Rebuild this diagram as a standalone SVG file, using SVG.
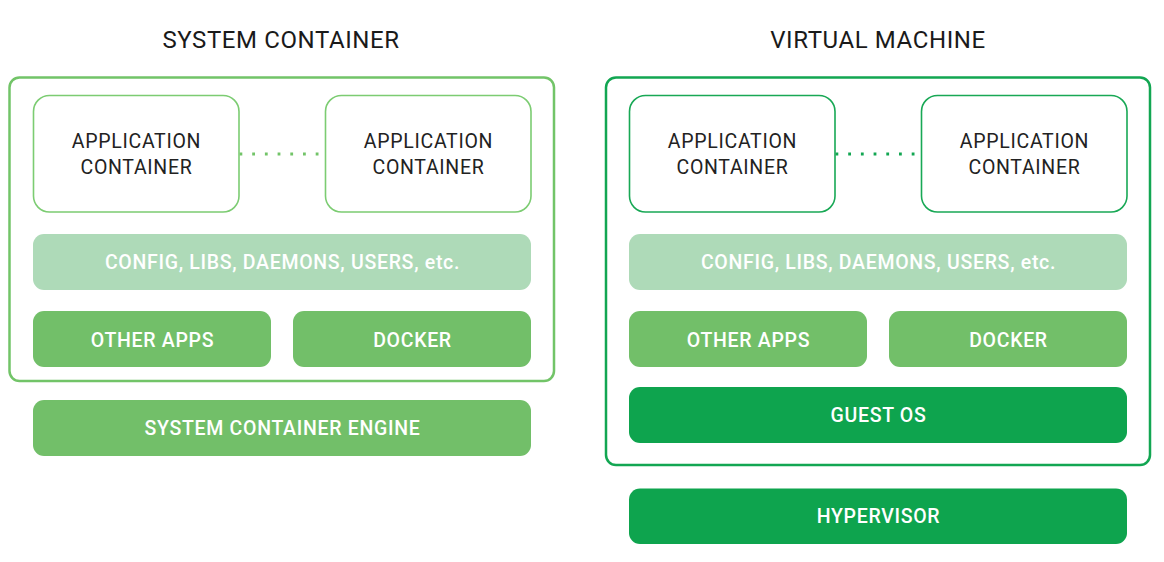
<svg xmlns="http://www.w3.org/2000/svg" width="1164" height="562" viewBox="0 0 1164 562">
<style>
.title{font-family:Roboto,"Liberation Sans",sans-serif;font-size:24px;letter-spacing:0.6px;fill:#1a1a1a;text-anchor:middle}
.app{font-family:Roboto,"Liberation Sans",sans-serif;font-size:19.5px;letter-spacing:0.7px;fill:#222;text-anchor:middle}
.lbl{font-family:Roboto,"Liberation Sans",sans-serif;font-size:19.5px;letter-spacing:0.7px;fill:#fff;text-anchor:middle;font-weight:500}
.outerL{fill:#fff;stroke:#72c468;stroke-width:2.5}
.outerR{fill:#fff;stroke:#12a652;stroke-width:2.5}
.appL{fill:#fff;stroke:#7ccc72;stroke-width:1.6}
.appR{fill:#fff;stroke:#18a855;stroke-width:1.6}
.light{fill:#aedab8}
.mid{fill:#72bf69}
.dark{fill:#0ea44e}
.dotL{stroke:#72c468;stroke-width:2.8;stroke-dasharray:2.8 9.9;fill:none}
.dotR{stroke:#12a652;stroke-width:2.8;stroke-dasharray:2.8 9.9;fill:none}
</style>
<rect width="1164" height="562" fill="#fff"/>
<text class="title" x="281" y="48">SYSTEM CONTAINER</text>
<text class="title" x="878" y="48">VIRTUAL MACHINE</text>

<g id="system-container">
<rect class="outerL" x="9.5" y="77.5" width="544.5" height="303.5" rx="10"/>
</g>
<g id="virtual-machine">
<rect class="outerR" x="606" y="77.5" width="544" height="387.5" rx="10"/>
</g>

<g id="connectors">
<line class="dotL" x1="239.5" y1="154" x2="320" y2="154"/>
<line class="dotR" x1="835.5" y1="154" x2="916" y2="154"/>
</g>

<g id="sc-app1"><rect class="appL" x="33.5" y="95.5" width="205.5" height="116.5" rx="16"/>
<text class="app" x="136.5" y="148">APPLICATION</text><text class="app" x="136.5" y="174">CONTAINER</text></g>
<g id="sc-app2"><rect class="appL" x="325.5" y="95.5" width="205.5" height="116.5" rx="16"/>
<text class="app" x="428.5" y="148">APPLICATION</text><text class="app" x="428.5" y="174">CONTAINER</text></g>
<g id="sc-config"><rect class="light" x="33" y="234" width="498" height="56" rx="11"/>
<text class="lbl" x="282.5" y="269">CONFIG, LIBS, DAEMONS, USERS, etc.</text></g>
<g id="sc-other"><rect class="mid" x="33" y="311" width="238" height="56" rx="11"/>
<text class="lbl" x="152.5" y="346.5">OTHER APPS</text></g>
<g id="sc-docker"><rect class="mid" x="293" y="311" width="238" height="56" rx="11"/>
<text class="lbl" x="412.5" y="346.5">DOCKER</text></g>
<g id="sc-engine"><rect class="mid" x="33" y="400" width="498" height="56" rx="11"/>
<text class="lbl" x="282.5" y="435">SYSTEM CONTAINER ENGINE</text></g>

<g id="vm-app1"><rect class="appR" x="629.5" y="95.5" width="205.5" height="116.5" rx="16"/>
<text class="app" x="732.5" y="148">APPLICATION</text><text class="app" x="732.5" y="174">CONTAINER</text></g>
<g id="vm-app2"><rect class="appR" x="921.5" y="95.5" width="205.5" height="116.5" rx="16"/>
<text class="app" x="1024.5" y="148">APPLICATION</text><text class="app" x="1024.5" y="174">CONTAINER</text></g>
<g id="vm-config"><rect class="light" x="629" y="234" width="498" height="56" rx="11"/>
<text class="lbl" x="878.5" y="269">CONFIG, LIBS, DAEMONS, USERS, etc.</text></g>
<g id="vm-other"><rect class="mid" x="629" y="311" width="238" height="56" rx="11"/>
<text class="lbl" x="748.5" y="346.5">OTHER APPS</text></g>
<g id="vm-docker"><rect class="mid" x="889" y="311" width="238" height="56" rx="11"/>
<text class="lbl" x="1008.5" y="346.5">DOCKER</text></g>
<g id="vm-guestos"><rect class="dark" x="629" y="387" width="498" height="56" rx="11"/>
<text class="lbl" x="878.5" y="422">GUEST OS</text></g>
<g id="vm-hypervisor"><rect class="dark" x="629" y="488.5" width="498" height="55.5" rx="11"/>
<text class="lbl" x="878.5" y="523">HYPERVISOR</text></g>
</svg>
